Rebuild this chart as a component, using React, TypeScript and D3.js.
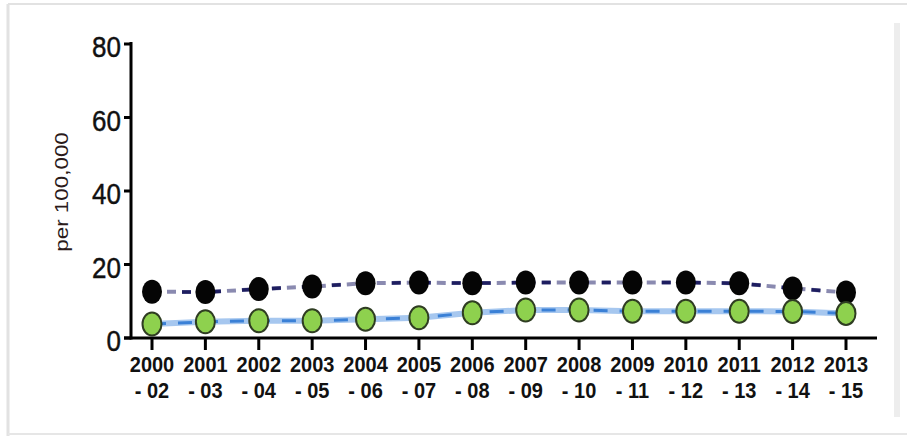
import React from "react";
import * as d3 from "d3";

// Three-year rolling periods
const periods: string[][] = [
  ["2000", "- 02"], ["2001", "- 03"], ["2002", "- 04"], ["2003", "- 05"],
  ["2004", "- 06"], ["2005", "- 07"], ["2006", "- 08"], ["2007", "- 09"],
  ["2008", "- 10"], ["2009", "- 11"], ["2010", "- 12"], ["2011", "- 13"],
  ["2012", "- 14"], ["2013", "- 15"],
];
const periodKeys = periods.map((p) => p[0]);

// Rates per 100,000
const blackSeries = [12.6, 12.5, 13.3, 14.0, 14.9, 15.1, 14.9, 15.1, 15.1, 15.1, 15.1, 14.9, 13.5, 12.4];
const greenSeries = [3.8, 4.4, 4.7, 4.7, 5.1, 5.5, 6.9, 7.6, 7.6, 7.3, 7.3, 7.3, 7.2, 6.7];

const yTicks = [0, 20, 40, 60, 80];

const W = 907;
const H = 436;

export default function App() {
  const x = d3.scalePoint<string>().domain(periodKeys).range([152, 846]);
  const y = d3.scaleLinear().domain([0, 80]).range([338, 44]);

  const line = d3
    .line<number>()
    .x((_, i) => x(periodKeys[i]) as number)
    .y((d) => y(d));

  const font = "'Liberation Sans', Arial, sans-serif";

  return (
    <svg
      width={W}
      height={H}
      style={{ position: "absolute", left: 0, top: 0, background: "#fff" }}
    >
      {/* frame */}
      <line x1={8} x2={W} y1={4} y2={4} stroke="#e2e2e2" strokeWidth={2} />
      <line x1={8} x2={8} y1={4} y2={H} stroke="#e2e2e2" strokeWidth={3} />
      <line x1={8} x2={W} y1={434} y2={434} stroke="#e6e6e6" strokeWidth={2} />
      <rect x={894} y={23} width={6} height={394} fill="#ededed" />

      {/* y axis */}
      <line x1={131} x2={131} y1={42} y2={339.5} stroke="#000" strokeWidth={3} />
      {yTicks.map((t) => (
        <g key={t}>
          <line x1={124} x2={131} y1={y(t)} y2={y(t)} stroke="#000" strokeWidth={3} />
          <text
            transform={`translate(121,${y(t) + 3}) scale(1,1.15)`}
            textAnchor="end"
            dominantBaseline="central"
            fontFamily={font}
            fontSize={26}
            stroke="#111"
            strokeWidth={0.4}
            fill="#111"
          >
            {t}
          </text>
        </g>
      ))}
      <text
        transform="translate(68,192) rotate(-90) scale(1.18,1)"
        textAnchor="middle"
        fontFamily={font}
        fontSize={19}
        fill="#2a1a1a"
      >
        per 100,000
      </text>

      {/* x axis */}
      <line x1={124} x2={877} y1={338} y2={338} stroke="#000" strokeWidth={3} />
      {periods.map((p) => {
        const px = x(p[0]) as number;
        return (
          <g key={p[0]}>
            <line x1={px} x2={px} y1={338} y2={350} stroke="#000" strokeWidth={3} />
            <text
              transform={`translate(${px},364) scale(1,1.09)`}
              textAnchor="middle"
              dominantBaseline="central"
              fontFamily={font}
              fontWeight="bold"
              fontSize={20}
              fill="#111"
            >
              {p[0]}
            </text>
            <text
              transform={`translate(${px},390) scale(1,1.09)`}
              textAnchor="middle"
              dominantBaseline="central"
              fontFamily={font}
              fontWeight="bold"
              fontSize={20}
              fill="#111"
            >
              {p[1]}
            </text>
          </g>
        );
      })}

      {/* lower series line */}
      <path d={line(greenSeries) || ""} fill="none" stroke="#a6c7ef" strokeWidth={6} />
      <path
        d={line(greenSeries) || ""}
        fill="none"
        stroke="#3a80d6"
        strokeWidth={3}
        strokeDasharray="14 12"
      />

      {/* upper series line */}
      <path
        d={line(blackSeries) || ""}
        fill="none"
        stroke="#8a8ab0"
        strokeWidth={4}
        strokeDasharray="9 6"
      />
      <path
        d={line(blackSeries) || ""}
        fill="none"
        stroke="#1e1e60"
        strokeWidth={3.5}
        strokeDasharray="9 21"
      />

      {/* markers */}
      {blackSeries.map((v, i) => (
        <ellipse
          key={`b${i}`}
          cx={x(periodKeys[i]) as number}
          cy={y(v)}
          rx={10}
          ry={12}
          fill="#050505"
        />
      ))}
      {greenSeries.map((v, i) => (
        <ellipse
          key={`g${i}`}
          cx={x(periodKeys[i]) as number}
          cy={y(v)}
          rx={9.5}
          ry={11.5}
          fill="#8ed14e"
          stroke="#2f3d22"
          strokeWidth={2}
        />
      ))}
    </svg>
  );
}
